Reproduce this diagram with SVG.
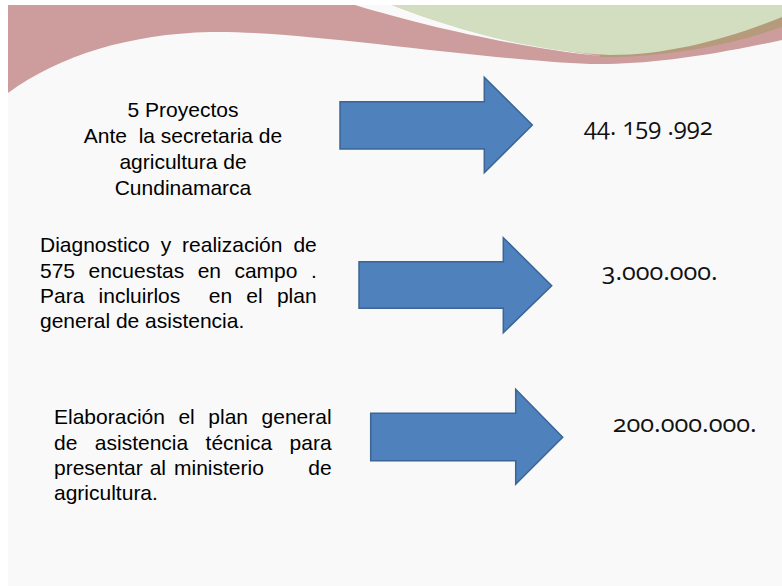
<svg xmlns="http://www.w3.org/2000/svg" width="782" height="586" viewBox="0 0 782 586">
<style>
.t{font-family:"Liberation Sans",Arial,sans-serif;font-size:21px;fill:#000;white-space:pre}
.v{font-family:"Open Sans",sans-serif;font-size:24px;fill:#111;font-variant-numeric:oldstyle-nums;font-feature-settings:"onum" 1}
.arr{fill:#4f81bd;stroke:#3a6594;stroke-width:1.5;stroke-linejoin:miter}
</style>
<rect x="0" y="0" width="782" height="586" fill="#ffffff"/>
<rect x="8" y="5" width="774" height="581" fill="#f9f9f9"/>
<g id="banner">
<path d="M8,5 H782 V40 C700,58 640,65 590,64 C480,60 300,30 210,32 C130,34 60,55 8,93 Z" fill="#cd9c9c"/>
<path d="M600,57 C670,57 730,45 782,27 V5 H600 Z" fill="#b59b7c"/>
<path d="M355,5 C420,25 520,48 600,56 C520,45 450,28 392,5 Z" fill="#f9f9f9"/>
<path d="M392,5 H782 V17 C730,38 670,55 610,55 C530,52 450,28 392,5 Z" fill="#d3ddbf"/>
</g>
<g id="connectors">
<polygon class="arr" points="340,101.7 484.3,101.7 484.3,77.3 532.3,125 484.3,172.7 484.3,149 340,149"/>
<polygon class="arr" points="359,261.7 503.3,261.7 503.3,237.7 551.7,285.7 503.3,332.7 503.3,308.3 359,308.3"/>
<polygon class="arr" points="370.7,413.3 515.7,413.3 515.7,389.3 562.7,437.3 515.7,484.3 515.7,460.7 370.7,460.7"/>
</g>
<g id="node1">
<text class="t" text-anchor="middle" xml:space="preserve"><tspan x="183" y="116.5">5 Proyectos</tspan><tspan x="183" y="143">Ante  la secretaria de</tspan><tspan x="183" y="169">agricultura de</tspan><tspan x="183" y="195">Cundinamarca</tspan></text>
</g>
<g id="node2">
<text class="t" x="40" y="252" style="word-spacing:5.1px">Diagnostico y realización de</text>
<text class="t" x="40" y="278" style="word-spacing:7.6px">575 encuestas en campo .</text>
<text class="t" x="40" y="303" style="word-spacing:8.4px" xml:space="preserve">Para incluirlos  en el plan</text>
<text class="t" x="40" y="328">general de asistencia.</text>
</g>
<g id="node3">
<text class="t" x="54" y="424" style="word-spacing:7.7px">Elaboración el plan general</text>
<text class="t" x="54" y="450" style="word-spacing:11.6px">de asistencia técnica para</text>
<text class="t" y="475"><tspan x="54">presentar</tspan><tspan x="149.7">al</tspan><tspan x="174">ministerio</tspan><tspan x="331.7" text-anchor="end">de</tspan></text>
<text class="t" x="54" y="500">agricultura.</text>
</g>
<g id="value1">
<text class="v" x="584" y="135" textLength="128.7" lengthAdjust="spacingAndGlyphs" xml:space="preserve">44. 159 .992</text>
</g>
<g id="value2">
<text class="v" x="601.7" y="280" textLength="116" lengthAdjust="spacingAndGlyphs">3.000.000.</text>
</g>
<g id="value3">
<text class="v" x="612.7" y="431.7" textLength="144" lengthAdjust="spacingAndGlyphs">200.000.000.</text>
</g>
</svg>
